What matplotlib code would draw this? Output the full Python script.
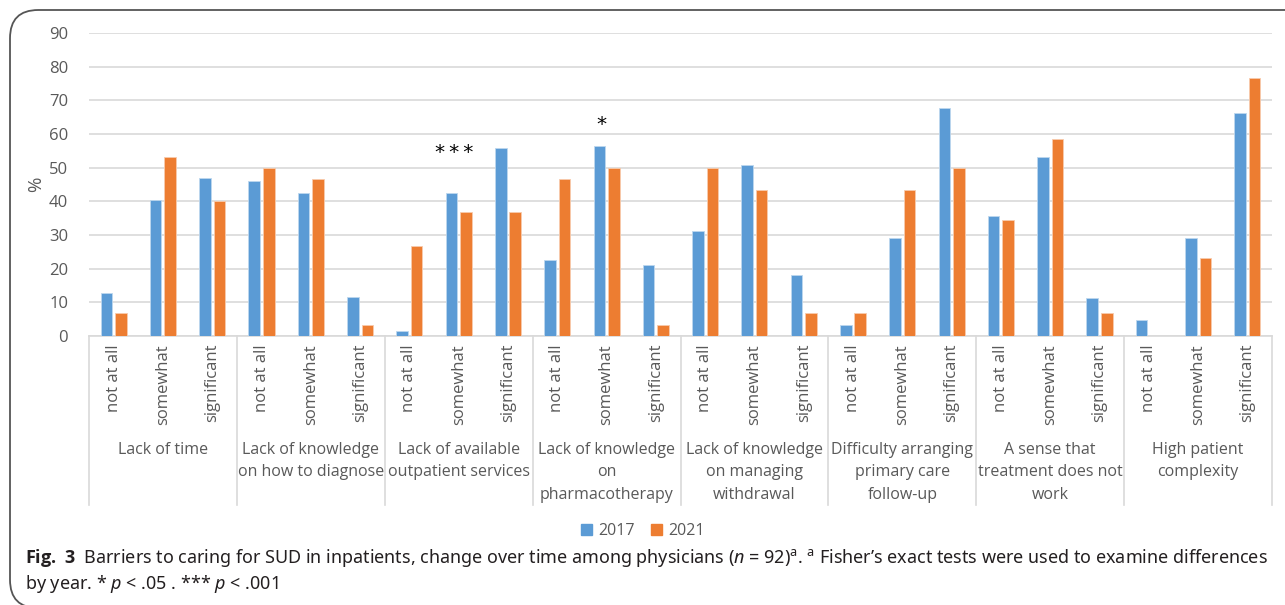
import matplotlib
matplotlib.use("Agg")
import matplotlib.pyplot as plt
import numpy as np
from matplotlib import font_manager
from matplotlib.font_manager import FontProperties
from matplotlib.patches import FancyBboxPatch, Patch
from matplotlib.transforms import blended_transform_factory


def bold_family(candidates):
    # first family that really ships a bold face
    for fam in candidates:
        try:
            path = font_manager.findfont(FontProperties(family=fam, weight="bold"),
                                         fallback_to_default=False)
        except Exception:
            continue
        if "bold" in path.lower():
            return fam
    return "DejaVu Sans"


cap_font = "Noto Sans"
cap_bold = bold_family(["Noto Sans", "Open Sans", "Lato", "Roboto", "DejaVu Sans"])

plt.rcParams['font.family'] = ['Open Sans', 'DejaVu Sans']
plt.rcParams['mathtext.fontset'] = 'custom'
plt.rcParams['mathtext.rm'] = cap_font
plt.rcParams['mathtext.it'] = cap_font + ':italic'
plt.rcParams['mathtext.bf'] = cap_bold + ':bold'

barriers = ["Lack of time",
            "Lack of knowledge\non how to diagnose",
            "Lack of available\noutpatient services",
            "Lack of knowledge\non\npharmacotherapy",
            "Lack of knowledge\non managing\nwithdrawal",
            "Difficulty arranging\nprimary care\nfollow-up",
            "A sense that\ntreatment does not\nwork",
            "High patient\ncomplexity"]
levels = ["not at all", "somewhat", "significant"]

y2017 = [12.9, 40.3, 46.8,
         45.9, 42.6, 11.5,
         1.6, 42.6, 55.7,
         22.6, 56.5, 21.0,
         31.1, 50.8, 18.0,
         3.2, 29.0, 67.7,
         35.5, 53.2, 11.3,
         4.8, 29.0, 66.1]
y2021 = [6.7, 53.3, 40.0,
         50.0, 46.7, 3.3,
         26.7, 36.7, 36.7,
         46.7, 50.0, 3.3,
         50.0, 43.3, 6.7,
         6.7, 43.3, 50.0,
         34.5, 58.6, 6.9,
         0.0, 23.3, 76.7]

# significance markers: (bar index, height in %, text)
sig_marks = [(7, 54.4, "*\u2009*\u2009*"), (10, 62.8, "*")]

blue = "#5B9BD5"
orange = "#ED7D31"
grid_c = "#D9D9D9"
txt_c = "#595959"

W, H = 1285, 605
fig = plt.figure(figsize=(W / 100, H / 100), dpi=100)

# panel frame with rounded corners (only the top and left edges show)
frame = FancyBboxPatch((10 / W, -3 / H), 1.2, (H - 7) / H,
                       boxstyle="round,pad=0,rounding_size=0.022",
                       transform=fig.transFigure, fill=False,
                       edgecolor="#555555", lw=1.3, mutation_aspect=W / H)
fig.patches.append(frame)

ax = fig.add_axes([89 / W, 1 - 336 / H, (1272 - 89) / W, (336 - 33) / H])
x = np.arange(len(y2017))
bw = 0.235
ax.bar(x - 0.147, y2017, bw, color=blue, edgecolor="#BDD7EE", lw=0.6, zorder=3)
ax.bar(x + 0.147, y2021, bw, color=orange, edgecolor="#F8CBAD", lw=0.6, zorder=3)

ax.set_xlim(-0.5, len(x) - 0.5)
ax.set_ylim(0, 90)
ax.set_yticks(range(0, 91, 10))
ax.yaxis.grid(True, color=grid_c, lw=1.2)
ax.set_axisbelow(True)
for s in ["top", "right", "left"]:
    ax.spines[s].set_visible(False)
ax.spines["bottom"].set_color(grid_c)
ax.spines["bottom"].set_linewidth(1.2)
ax.tick_params(axis="y", length=0, labelsize=12, labelcolor=txt_c, pad=15)
ax.set_xticks([])
fig.text(36 / W, 1 - 184 / H, "%", rotation=90, ha="center", va="center",
         fontsize=13.5, color=txt_c)

trans = blended_transform_factory(ax.transData, ax.transAxes)
ax_h = 336 - 33

# category axis separators
for b in np.arange(-0.5, len(x), 3):
    ax.plot([b, b], [0, -(505 - 336) / ax_h], transform=trans,
            color=grid_c, lw=1.2, clip_on=False)

for i in x:
    ax.text(i, -(344 - 336) / ax_h, levels[i % 3], transform=trans,
            rotation=90, ha="center", va="top", fontsize=12, color=txt_c)

for g, name in enumerate(barriers):
    ax.text(3 * g + 1, -(442 - 336) / ax_h, name, transform=trans,
            ha="center", va="top", fontsize=11.5, color=txt_c,
            linespacing=1.53)

for idx, h, s in sig_marks:
    ax.text(idx - 0.1, h, s, ha="center", va="center",
            fontsize=14.5, color="black", family="DejaVu Sans")

handles = [Patch(color=blue, label="2017"), Patch(color=orange, label="2021")]
fig.legend(handles=handles, loc="center", bbox_to_anchor=(643 / W, 1 - 531 / H),
           ncol=2, frameon=False, fontsize=11.5, handlelength=0.7,
           handleheight=0.7, handletextpad=0.4, columnspacing=1.0,
           labelcolor=txt_c)

cap1 = (r"$\mathbf{Fig.\ 3}$  Barriers to caring for SUD in inpatients, change over time "
        r"among physicians ($n$ = 92)$^{\mathrm{a}}$. $^{\mathrm{a}}$ Fisher’s exact tests "
        r"were used to examine differences")
cap2 = r"by year. * $p$ < .05 . *** $p$ < .001"
fig.text(25 / W, 1 - 558 / H, cap1, ha="left", va="center", fontsize=12.95,
         family=cap_font, color="#231F20")
fig.text(25 / W, 1 - 584 / H, cap2, ha="left", va="center", fontsize=12.95,
         family=cap_font, color="#231F20")

fig.savefig("out.png", dpi=100)
